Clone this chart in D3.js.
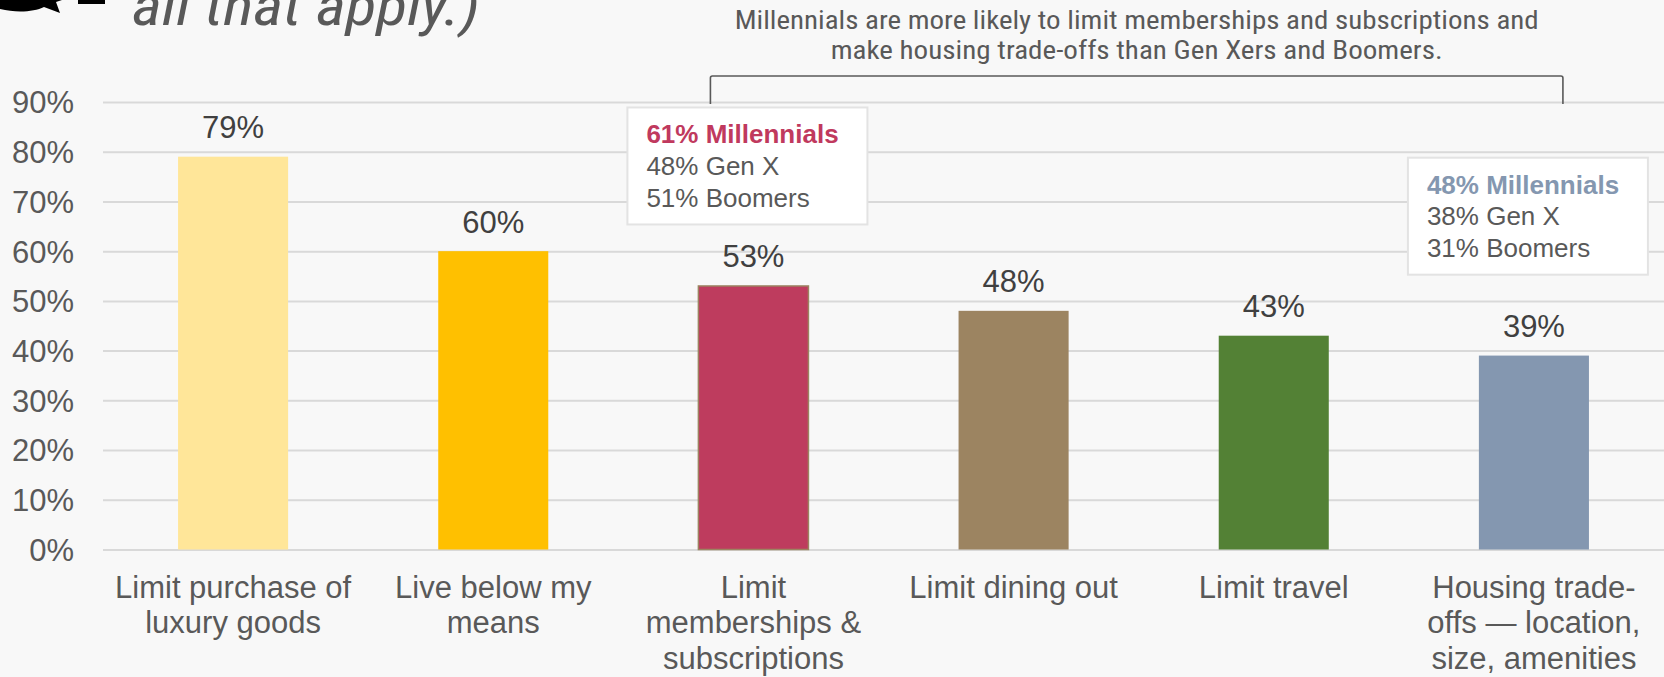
<!DOCTYPE html>
<html>
<head>
<meta charset="utf-8">
<script src="https://cdn.jsdelivr.net/npm/d3@7"></script>
<style>
  html, body { margin: 0; padding: 0; background: #f8f8f8; }
  svg { display: block; }
  text { font-family: "Liberation Sans", Arial, sans-serif; }
</style>
</head>
<body>
<svg id="chart" width="1664" height="677"></svg>
<script>
// ---- data ----
const categories = [
  "Limit purchase of luxury goods",
  "Live below my means",
  "Limit memberships & subscriptions",
  "Limit dining out",
  "Limit travel",
  "Housing trade-offs — location, size, amenities"
];
const categoryLabelLines = [
  ["Limit purchase of", "luxury goods"],
  ["Live below my", "means"],
  ["Limit", "memberships &", "subscriptions"],
  ["Limit dining out"],
  ["Limit travel"],
  ["Housing trade-", "offs — location,", "size, amenities"]
];
const values = [0.79, 0.60, 0.53, 0.48, 0.43, 0.39];
const barColors = ["#FFE699", "#FFC000", "#BE3C5E", "#9C8461", "#538135", "#8497B0"];
const yTicks = [0, 0.1, 0.2, 0.3, 0.4, 0.5, 0.6, 0.7, 0.8, 0.9];

const headerLines = [
  "Millennials are more likely to limit memberships and subscriptions and",
  "make housing trade-offs than Gen Xers and Boomers."
];
const titleFragment = "all that apply.)";

const callout1Lines = ["61% Millennials", "48% Gen X", "51% Boomers"];
const callout2Lines = ["48% Millennials", "38% Gen X", "31% Boomers"];
const calloutCategories = [2, 5];
const calloutAccent = ["#C0395E", "#8497B0"];

// ---- layout ----
const svg = d3.select("#chart");
const W = 1664, H = 677;
const left = 103, right = 1664, y0 = 549.5, y90 = 102;

const x = d3.scaleBand().domain(categories).range([left, right])
  .paddingInner(0.577).paddingOuter(0.2885);
const y = d3.scaleLinear().domain([0, 0.9]).range([y0, y90]);

svg.append("rect").attr("width", W).attr("height", H).attr("fill", "#f8f8f8");

// gridlines + y tick labels
const yAxis = svg.append("g").attr("transform", `translate(${left},0)`)
  .call(d3.axisLeft(y).tickValues(yTicks).tickFormat(d3.format(".0%"))
    .tickSize(-(right - left)).tickPadding(29));
yAxis.select(".domain").remove();
yAxis.selectAll(".tick line").attr("stroke", "#d9d9d9").attr("stroke-width", 2);
yAxis.selectAll(".tick text").attr("fill", "#595959")
  .style("font-size", "31px").attr("dy", "0.35em");

// bars
svg.append("g").selectAll("rect").data(values).join("rect")
  .attr("x", (d, i) => x(categories[i]))
  .attr("y", d => y(d))
  .attr("width", x.bandwidth())
  .attr("height", d => y(0) - y(d))
  .attr("fill", (d, i) => barColors[i])
  .attr("stroke", (d, i) => i === 2 ? "#9C8461" : "none")
  .attr("stroke-width", 1.5);

// value labels
svg.append("g").selectAll("text").data(values).join("text")
  .attr("x", (d, i) => x(categories[i]) + x.bandwidth() / 2)
  .attr("y", d => y(d) - 18.5)
  .attr("text-anchor", "middle")
  .attr("fill", "#404040")
  .style("font-size", "31px")
  .text(d => Math.round(d * 100) + "%");

// category labels
const xAxis = svg.append("g").attr("transform", `translate(0,${y0})`)
  .call(d3.axisBottom(x).tickSize(0).tickFormat(""));
xAxis.select(".domain").remove();
xAxis.selectAll(".tick").each(function(d, i) {
  const t = d3.select(this).append("text")
    .attr("text-anchor", "middle").attr("fill", "#595959")
    .style("font-size", "31px");
  categoryLabelLines[i].forEach((ln, j) => {
    t.append("tspan").attr("x", 0).attr("y", 48.5 + j * 35.3).text(ln);
  });
});

// callout boxes
function callout(lines, ci, topVal, accent) {
  const cx = x(categories[ci]) + x.bandwidth() / 2;
  const bx = cx - 126, by = y(topVal), bw = 240, bh = 117;
  const g = svg.append("g");
  g.append("rect").attr("x", bx).attr("y", by).attr("width", bw).attr("height", bh)
    .attr("fill", "#ffffff").attr("stroke", "#e3e3e3").attr("stroke-width", 2);
  lines.forEach((ln, j) => {
    g.append("text").attr("x", bx + 19).attr("y", by + 36 + j * 31.8)
      .attr("fill", j === 0 ? accent : "#595959")
      .style("font-size", "26px")
      .style("font-weight", j === 0 ? "bold" : "normal")
      .text(ln);
  });
}
callout(callout1Lines, calloutCategories[0], 0.889, calloutAccent[0]);
callout(callout2Lines, calloutCategories[1], 0.788, calloutAccent[1]);

// bracket
const bL = x(categories[2]) + x.bandwidth() / 2 - 43;
const bR = x(categories[5]) + x.bandwidth() / 2 + 29;
svg.append("path")
  .attr("d", `M${bL},104 L${bL},78 Q${bL},76 ${bL + 2},76 L${bR - 2},76 Q${bR},76 ${bR},78 L${bR},104`)
  .attr("fill", "none").attr("stroke", "#595959").attr("stroke-width", 1.6);

// header text
const condensed = '"Liberation Sans Narrow", "Roboto Condensed", Roboto, sans-serif';
const hcx = (bL + bR) / 2;
svg.append("text").attr("x", hcx).attr("y", 29).attr("text-anchor", "middle")
  .attr("fill", "#595959").style("font-family", condensed).style("font-size", "25px")
  .style("font-weight", "400")
  .attr("textLength", 804).attr("lengthAdjust", "spacingAndGlyphs")
  .text(headerLines[0]);
svg.append("text").attr("x", hcx).attr("y", 59).attr("text-anchor", "middle")
  .attr("fill", "#595959").style("font-family", condensed).style("font-size", "25px")
  .style("font-weight", "400")
  .attr("textLength", 612).attr("lengthAdjust", "spacingAndGlyphs")
  .text(headerLines[1]);

// cropped title fragment
svg.append("text").attr("x", 132).attr("y", 25)
  .attr("fill", "#595959").style("font-family", condensed).style("font-size", "56px")
  .style("font-style", "italic").style("font-weight", "400")
  .attr("textLength", 348).attr("lengthAdjust", "spacingAndGlyphs")
  .text(titleFragment);

// cropped black logo fragment
svg.append("path")
  .attr("d", "M0,0 L62,0 L56,2 L60,13 L44,7 C34,12 16,13 0,9 Z")
  .attr("fill", "#000");
svg.append("rect").attr("x", 78).attr("y", 0).attr("width", 27).attr("height", 4).attr("fill", "#000");
</script>
</body>
</html>
